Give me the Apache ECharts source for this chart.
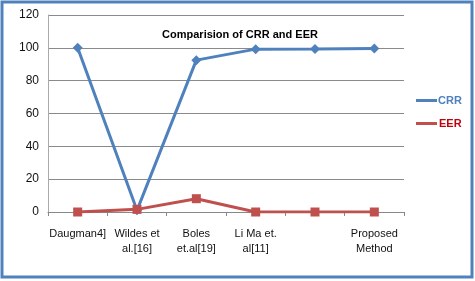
<!DOCTYPE html>
<html><head><meta charset="utf-8">
<script src="https://cdn.jsdelivr.net/npm/echarts@6/dist/echarts.min.js"></script>
<style>html,body{margin:0;padding:0;background:#fff}#c{width:475px;height:281px}</style>
</head><body><div id="c"></div>
<script>
const categories = ['Daugman4]', 'Wildes et\nal.[16]', 'Boles\net.al[19]', 'Li Ma et.\nal[11]', '', 'Proposed\nMethod'];
const crr = [100, 1, 92.5, 99.2, 99.3, 99.6];
const eer = [0, 1.6, 8.1, 0, 0, 0];
const yTicks = {min: 0, max: 120, interval: 20};

const chart = echarts.init(document.getElementById('c'), null, {renderer: 'canvas'});
chart.setOption({
  animation: false,
  textStyle: {fontFamily: 'Liberation Sans, Arial, sans-serif'},
  title: {text: 'Comparision of CRR and EER', left: 235, top: 24, textAlign: 'center',
    textStyle: {fontSize: 11, fontWeight: 'bold', color: '#000'}},
  graphic: [{type: 'rect', shape: {x: 2, y: 2, width: 470, height: 275},
    style: {fill: 'none', stroke: '#4f81bd', lineWidth: 3}}],
  legend: {orient: 'vertical', left: 411, top: 90, itemGap: 12, itemWidth: 21, itemHeight: 3,
    icon: 'rect',
    data: [
      {name: 'CRR', textStyle: {color: '#4f81bd', fontWeight: 'bold', fontSize: 11, padding: [0, 0, 0, -4]}},
      {name: 'EER', textStyle: {color: '#c0000b', fontWeight: 'bold', fontSize: 11, padding: [0, 0, 0, -3]}}
    ], itemStyle: {borderWidth: 0}},
  grid: {left: 48, right: 71, top: 15, bottom: 69},
  xAxis: {type: 'category', data: categories, boundaryGap: true,
    axisLine: {lineStyle: {color: '#888', width: 1}},
    axisTick: {show: true, length: 4, lineStyle: {color: '#888'}},
    axisLabel: {interval: 0, color: '#111', fontSize: 11, margin: 14, lineHeight: 15}},
  yAxis: {type: 'value', min: yTicks.min, max: yTicks.max, interval: yTicks.interval,
    axisLine: {show: true, lineStyle: {color: '#aaa'}},
    axisTick: {show: false},
    axisLabel: {color: '#111', fontSize: 12, margin: 9},
    splitLine: {lineStyle: {color: '#8a8a8a', width: 1}}},
  series: [
    {name: 'CRR', type: 'line', data: crr, symbol: 'diamond', symbolSize: 10,
      lineStyle: {color: '#4f81bd', width: 3}, itemStyle: {color: '#4f81bd'}, z: 2},
    {name: 'EER', type: 'line', data: eer, symbol: 'rect', symbolSize: 9,
      lineStyle: {color: '#c0504d', width: 3}, itemStyle: {color: '#c0504d'}, z: 3}
  ]
});
</script></body></html>
